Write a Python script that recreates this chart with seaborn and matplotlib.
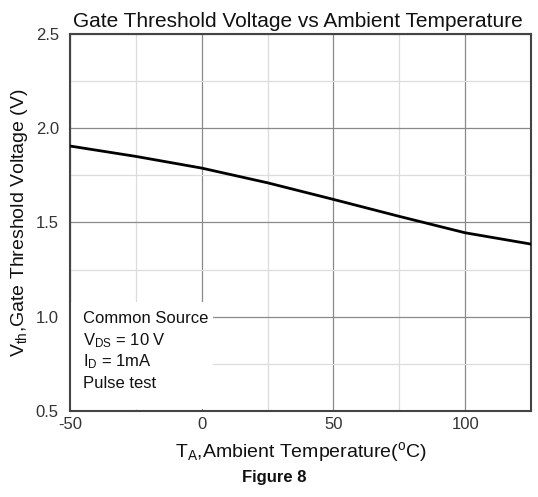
import matplotlib
matplotlib.use("Agg")
import matplotlib.pyplot as plt
import seaborn as sns
import pandas as pd
from matplotlib.patches import Rectangle
from matplotlib.ticker import MultipleLocator

# Values
temps = [-50, -25, 0, 25, 50, 75, 100, 125]
vth = [1.905, 1.850, 1.788, 1.710, 1.622, 1.532, 1.445, 1.385]

x_ticks = [-50, 0, 50, 100]
y_ticks = [0.5, 1.0, 1.5, 2.0, 2.5]

sns.set_theme(style="white")
plt.rcParams['font.family'] = ['Liberation Sans', 'DejaVu Sans']
plt.rcParams['mathtext.fontset'] = 'custom'
plt.rcParams['mathtext.rm'] = 'Liberation Sans'
plt.rcParams['mathtext.it'] = 'Liberation Sans'
plt.rcParams['axes.unicode_minus'] = False

df = pd.DataFrame({"Temp": temps, "Vth": vth})

fig = plt.figure(figsize=(5.38, 4.97), dpi=100)
ax = fig.add_axes([0.130, 0.173, 0.857, 0.759])

sns.lineplot(data=df, x="Temp", y="Vth", color="black", linewidth=2.0, ax=ax, zorder=5)

ax.set_xlim(-50, 125)
ax.set_ylim(0.5, 2.5)
ax.set_xticks(x_ticks)
ax.set_xticklabels([str(v) for v in x_ticks])
ax.set_yticks(y_ticks)
ax.set_yticklabels([f"{v:.1f}" for v in y_ticks])
ax.xaxis.set_minor_locator(MultipleLocator(25))
ax.yaxis.set_minor_locator(MultipleLocator(0.25))
ax.grid(which="major", color="#8a8a8a", linewidth=0.9, zorder=0)
ax.grid(which="minor", color="#dcdcdc", linewidth=0.9, zorder=0)
ax.set_axisbelow(True)
ax.tick_params(which="both", length=0, labelsize=12, colors="#333333")
ax.tick_params(axis="x", pad=4)
ax.tick_params(axis="y", pad=8)

for s in ax.spines.values():
    s.set_color("#444444")
    s.set_linewidth(1.5)

# white box behind the test conditions
ax.add_patch(Rectangle((0.0, 0.005), 0.31, 0.285, transform=ax.transAxes,
                       facecolor="white", edgecolor="none", zorder=2))
notes = ["Common Source", r"V$_{\mathrm{DS}}$ = 10 V", r"I$_{\mathrm{D}}$ = 1mA", "Pulse test"]
ys = [0.244, 0.186, 0.130, 0.074]
for t, y in zip(notes, ys):
    ax.text(0.028, y, t, transform=ax.transAxes, fontsize=12, va="center",
            ha="left", color="#111111", zorder=3)

ax.set_xlabel(r"T$_{\mathrm{A}}$,Ambient Temperature($^{\mathrm{o}}$C)", fontsize=14,
              color="#111111", labelpad=6)
ax.set_ylabel(r"V$_{\mathrm{th}}$,Gate Threshold Voltage (V)", fontsize=14,
              color="#111111", labelpad=4)
ax.set_title("Gate Threshold Voltage vs Ambient Temperature", fontsize=15,
             color="#111111", pad=5, x=0.495)
fig.text(0.51, 0.04, "Figure 8", fontsize=12, fontweight="bold", ha="center",
         va="center", color="#111111")

fig.savefig("out.png", dpi=100)
